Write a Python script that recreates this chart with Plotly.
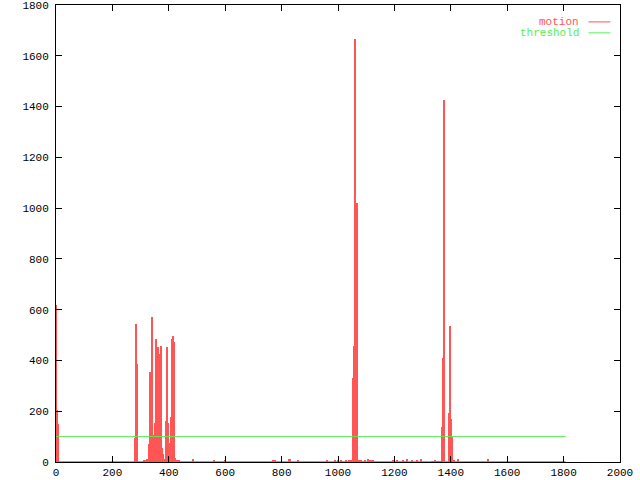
import plotly.graph_objects as go

# ---- data ----
n_frames = 1808
threshold_value = 100

motion_frames = [1, 4, 7,
                 279, 282, 286,
                 313, 316, 320, 323, 327,
                 330, 334, 340, 343, 347, 351, 354, 358, 361, 365, 368, 372, 375, 379, 383,
                 390, 393, 397, 400, 404, 407, 411, 415, 418, 422, 428, 435, 487, 560, 600,
                 770, 775, 825, 830, 858, 960, 990, 1000, 1010, 1030, 1040, 1045,
                 1052, 1055, 1059, 1062, 1066, 1069, 1075, 1083, 1095, 1105, 1110, 1118, 1125,
                 1195, 1210, 1230, 1245, 1262, 1280, 1295,
                 1335, 1340, 1345, 1350, 1355, 1360,
                 1368, 1371, 1376, 1393, 1396, 1400, 1403, 1410, 1425, 1531]
motion_values = [620, 205, 150,
                 95, 543, 386,
                 6, 8, 5, 10, 8,
                 71, 355, 572, 106, 37, 153, 484, 350, 454, 95, 425, 458, 55, 31, 10,
                 163, 454, 153, 67, 74, 178, 484, 496, 474, 15, 5, 8, 10, 4, 5,
                 8, 6, 10, 12, 6, 5, 5, 8, 6, 5, 6, 8,
                 330, 455, 1666, 330, 1020, 717, 8, 8, 5, 12, 6, 8, 5,
                 5, 8, 6, 10, 6, 8, 12,
                 3, 3, 4, 3, 3, 3,
                 139, 409, 1426, 192, 535, 170, 100, 5, 10, 10]

x_tick_vals = [0, 200, 400, 600, 800, 1000, 1200, 1400, 1600, 1800, 2000]
y_tick_vals = [0, 200, 400, 600, 800, 1000, 1200, 1400, 1600, 1800]

RED = "#ff5555"
GREEN = "#55ee55"
FONT = "Liberation Mono"

fig = go.Figure()

# baseline of the motion series (zero values)
fig.add_trace(go.Scatter(x=[0, n_frames - 1], y=[0, 0], mode="lines",
                         line=dict(color=RED, width=1.5), showlegend=False,
                         hoverinfo="skip"))
# motion impulses
fig.add_trace(go.Bar(x=motion_frames, y=motion_values, width=3.6,
                     marker=dict(color=RED, line=dict(width=0)),
                     name="motion", showlegend=False))
# threshold
fig.add_trace(go.Scatter(x=[0, n_frames - 1], y=[threshold_value, threshold_value],
                         mode="lines", line=dict(color=GREEN, width=1),
                         name="threshold", showlegend=False))

axis_common = dict(showgrid=False, zeroline=False, showline=True, linecolor="black",
                   linewidth=1, mirror="allticks", ticks="inside", ticklen=6,
                   tickcolor="black", tickwidth=1, automargin=False,
                   ticklabeloverflow="allow",
                   tickfont=dict(family=FONT, size=11, color="black"))

fig.update_xaxes(range=[0, 2000], tickvals=x_tick_vals,
                 ticktext=[str(v) for v in x_tick_vals], **axis_common)
fig.update_yaxes(range=[0, 1800], tickvals=y_tick_vals,
                 ticktext=[str(v) for v in y_tick_vals], ticklabelstandoff=4,
                 **axis_common)

# gnuplot-style key: text on the left, line sample on the right
key = [("motion", RED, 0.963), ("threshold", GREEN, 0.939)]
for label, color, yk in key:
    fig.add_annotation(xref="paper", yref="paper", x=0.929, y=yk, text=label,
                       showarrow=False, xanchor="right", yanchor="middle",
                       height=10, borderpad=0,
                       font=dict(family=FONT, size=11, color=color))
    fig.add_shape(type="line", xref="paper", yref="paper", x0=0.944, x1=0.983,
                  y0=yk, y1=yk, line=dict(color=color, width=1))

fig.update_layout(width=640, height=480, plot_bgcolor="white", paper_bgcolor="white",
                  margin=dict(l=56, r=20, t=5, b=18), bargap=0, showlegend=False)

fig.write_html("out.html", config={"displayModeBar": False},
               post_script="document.body.style.margin='0';document.body.style.overflow='hidden';")
